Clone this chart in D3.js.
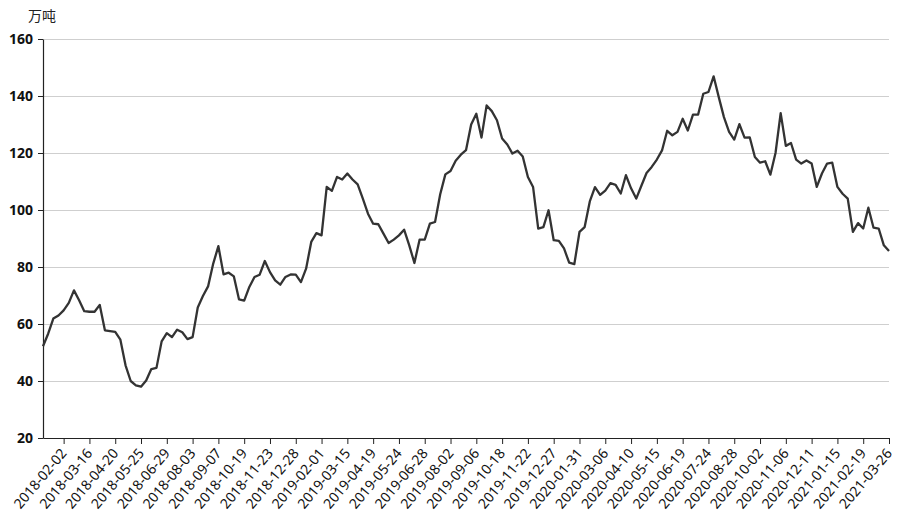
<!DOCTYPE html>
<html>
<head>
<meta charset="utf-8">
<script src="https://cdn.jsdelivr.net/npm/d3@7"></script>
<style>
  html, body { margin: 0; padding: 0; background: #fff; }
  svg { display: block; }
  text { font-family: "Noto Sans CJK SC", "Noto Sans", sans-serif; }
</style>
</head>
<body>
<svg id="chart" width="900" height="518"></svg>
<script>
const dates = [
  "2018-01-05","2018-01-12","2018-01-19","2018-01-26","2018-02-02","2018-02-09","2018-02-23","2018-03-02","2018-03-09","2018-03-16",
  "2018-03-23","2018-03-30","2018-04-06","2018-04-13","2018-04-20","2018-04-27","2018-05-04","2018-05-11","2018-05-18","2018-05-25",
  "2018-06-01","2018-06-08","2018-06-15","2018-06-22","2018-06-29","2018-07-06","2018-07-13","2018-07-20","2018-07-27","2018-08-03",
  "2018-08-10","2018-08-17","2018-08-24","2018-08-31","2018-09-07","2018-09-14","2018-09-21","2018-09-28","2018-10-12","2018-10-19",
  "2018-10-26","2018-11-02","2018-11-09","2018-11-16","2018-11-23","2018-11-30","2018-12-07","2018-12-14","2018-12-21","2018-12-28",
  "2019-01-04","2019-01-11","2019-01-18","2019-01-25","2019-02-01","2019-02-15","2019-02-22","2019-03-01","2019-03-08","2019-03-15",
  "2019-03-22","2019-03-29","2019-04-05","2019-04-12","2019-04-19","2019-04-26","2019-05-03","2019-05-10","2019-05-17","2019-05-24",
  "2019-05-31","2019-06-07","2019-06-14","2019-06-21","2019-06-28","2019-07-05","2019-07-12","2019-07-19","2019-07-26","2019-08-02",
  "2019-08-09","2019-08-16","2019-08-23","2019-08-30","2019-09-06","2019-09-13","2019-09-20","2019-09-27","2019-10-11","2019-10-18",
  "2019-10-25","2019-11-01","2019-11-08","2019-11-15","2019-11-22","2019-11-29","2019-12-06","2019-12-13","2019-12-20","2019-12-27",
  "2020-01-03","2020-01-10","2020-01-17","2020-01-23","2020-01-31","2020-02-07","2020-02-14","2020-02-21","2020-02-28","2020-03-06",
  "2020-03-13","2020-03-20","2020-03-27","2020-04-03","2020-04-10","2020-04-17","2020-04-24","2020-04-30","2020-05-08","2020-05-15",
  "2020-05-22","2020-05-29","2020-06-05","2020-06-12","2020-06-19","2020-06-24","2020-07-03","2020-07-10","2020-07-17","2020-07-24",
  "2020-07-31","2020-08-07","2020-08-14","2020-08-21","2020-08-28","2020-09-04","2020-09-11","2020-09-18","2020-09-25","2020-10-02",
  "2020-10-09","2020-10-16","2020-10-23","2020-10-30","2020-11-06","2020-11-13","2020-11-20","2020-11-27","2020-12-04","2020-12-11",
  "2020-12-18","2020-12-25","2021-01-01","2021-01-08","2021-01-15","2021-01-22","2021-01-29","2021-02-05","2021-02-10","2021-02-19",
  "2021-02-26","2021-03-05","2021-03-12","2021-03-19","2021-03-26"
];

const values = [
  52.2, 56.6, 61.9, 63.0, 64.8, 67.4, 71.8, 68.3, 64.5, 64.3,
  64.3, 66.7, 57.8, 57.5, 57.2, 54.5, 45.5, 40.0, 38.5, 38.0,
  40.2, 44.2, 44.6, 53.9, 56.8, 55.4, 58.0, 57.1, 54.7, 55.4,
  65.8, 69.8, 73.2, 81.2, 87.3, 77.4, 78.0, 76.7, 68.6, 68.2,
  73.0, 76.5, 77.3, 82.1, 78.2, 75.3, 73.8, 76.5, 77.4, 77.3,
  74.7, 79.4, 88.8, 91.9, 91.1, 108.1, 106.7, 111.6, 110.7, 112.8,
  110.7, 109.0, 104.0, 98.7, 95.2, 95.0, 91.7, 88.4, 89.6, 91.1,
  93.1, 87.6, 81.4, 89.6, 89.6, 95.2, 95.8, 105.5, 112.5, 113.7,
  117.3, 119.4, 121.0, 130.0, 133.8, 125.4, 136.7, 134.7, 131.5, 125.1,
  123.0, 119.8, 120.8, 118.8, 111.6, 108.1, 93.5, 94.0, 99.9, 89.4,
  89.2, 86.5, 81.5, 81.0, 92.3, 94.0, 103.0, 108.0, 105.3, 106.8,
  109.4, 108.8, 105.8, 112.2, 107.6, 104.0, 108.5, 113.0, 115.1, 117.7,
  120.9, 127.8, 126.2, 127.4, 132.0, 127.9, 133.5, 133.5, 140.8, 141.4,
  146.9, 139.6, 132.6, 127.4, 124.7, 130.1, 125.4, 125.5, 118.6, 116.6,
  117.1, 112.4, 120.0, 134.0, 122.5, 123.5, 117.7, 116.3, 117.4, 116.3,
  108.1, 112.8, 116.3, 116.6, 108.1, 105.7, 104.0, 92.3, 95.4, 93.5,
  100.8, 93.8, 93.5, 87.6, 85.6
];

const yTicks = [20, 40, 60, 80, 100, 120, 140, 160];
const unitLabel = "万吨";
const labelEvery = 5;
const labelOffset = 4;

const svg = d3.select("#chart");
const margin = { top: 39, right: 11, bottom: 80, left: 43 };
const W = 900, H = 518;
const iw = W - margin.left - margin.right;
const ih = H - margin.top - margin.bottom;

const g = svg.append("g").attr("transform", `translate(${margin.left},${margin.top})`);

const x = d3.scalePoint().domain(dates).range([0, iw]).padding(0);
const y = d3.scaleLinear().domain([20, 160]).range([ih, 0]);

// gridlines
g.append("g").selectAll("line").data(yTicks).join("line")
  .attr("x1", 0).attr("x2", iw)
  .attr("y1", d => y(d) + 0.5).attr("y2", d => y(d) + 0.5)
  .attr("stroke", "#cfcfcf").attr("stroke-width", 1);

// y axis
const yAxis = g.append("g")
  .call(d3.axisLeft(y).tickValues(yTicks).tickSize(5).tickPadding(5).tickSizeOuter(0));
yAxis.select(".domain").attr("stroke", "#222").attr("stroke-width", 1.2);
yAxis.selectAll(".tick line").attr("stroke", "#222");
yAxis.selectAll(".tick text")
  .attr("font-size", 14).attr("font-weight", "bold").attr("fill", "#111")
  .style("font-family", "'Noto Sans', sans-serif");

// x axis
const shown = dates.filter((d, i) => i >= labelOffset && (i - labelOffset) % labelEvery === 0);
const xAxis = g.append("g").attr("transform", `translate(0,${ih})`)
  .call(d3.axisBottom(x).tickValues(shown).tickSize(6).tickPadding(4).tickSizeOuter(0));
xAxis.select(".domain").attr("stroke", "#222").attr("stroke-width", 1.2);
xAxis.selectAll(".tick line").attr("stroke", "#222");
xAxis.selectAll(".tick text")
  .attr("font-size", 14).attr("fill", "#111")
  .style("font-family", "'Noto Sans', sans-serif")
  .attr("text-anchor", "end")
  .attr("x", 0).attr("y", 0)
  .attr("dx", "-0.05em").attr("dy", "0.35em")
  .attr("transform", "translate(0,12) rotate(-50)");

// line
const line = d3.line().x((d, i) => x(dates[i])).y(d => y(d)).curve(d3.curveLinear);
g.append("path").datum(values)
  .attr("d", line)
  .attr("fill", "none")
  .attr("stroke", "#333")
  .attr("stroke-width", 2.3)
  .attr("stroke-linejoin", "round");

// unit label
svg.append("text").attr("x", 28).attr("y", 21)
  .attr("font-size", 14).attr("fill", "#222").text(unitLabel);
</script>
</body>
</html>
